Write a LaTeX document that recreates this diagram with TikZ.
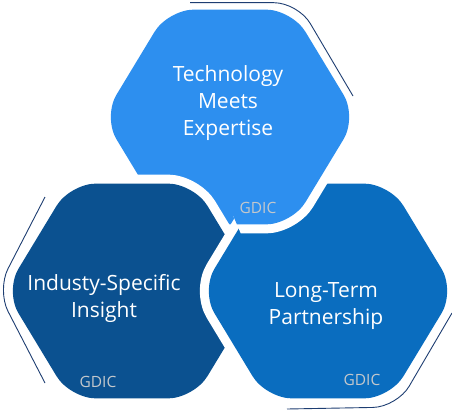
\documentclass[tikz,border=0pt]{standalone}
\usepackage{fontspec}
\setmainfont{Open Sans}
\definecolor{lightb}{HTML}{2D8FEF}
\definecolor{darkb}{HTML}{0B5190}
\definecolor{midb}{HTML}{0A6DBF}
\definecolor{navy}{HTML}{1E3E72}
\definecolor{gdicgray}{HTML}{C4C8CC}
\tikzset{
  hexfill/.style={rounded corners=26pt, preaction={draw=white, line width=18pt}},
  decoline/.style={draw=navy, line width=0.9pt, rounded corners=24pt},
  maintxt/.style={text=white, align=center, font=\fontsize{21}{27}\selectfont, inner sep=0pt},
  tagtxt/.style={text=gdicgray, font=\fontsize{15.5}{18}\selectfont, inner sep=0pt}
}
\newcommand{\drawhex}[3]{%
  \path[hexfill, fill=#3] (#1,#2-107.4) -- (#1+62,#2-107.4) -- (#1+127,#2)
    -- (#1+62,#2+107.4) -- (#1-62,#2+107.4) -- (#1-127,#2)
    -- (#1-62,#2-107.4) -- cycle;}
\begin{document}
\begin{tikzpicture}[x=1pt,y=-1pt]
\useasboundingbox (0,0) rectangle (452,412);
% light (top) first, dark over light, medium over dark
\drawhex{230}{117}{lightb}
\drawhex{132}{291}{darkb}
\drawhex{328}{291}{midb}
% light over medium (cyclic overlap)
\begin{scope}
  \clip (205,150) -- (460,150) -- (460,262) -- (253,262) -- cycle;
  \drawhex{230}{117}{lightb}
\end{scope}
% decorative outline arcs
\coordinate (d1a) at (190,2.7);
\coordinate (d1b) at (298,2.7);
\coordinate (d1c) at (353,96);
\coordinate (d2a) at (45,197);
\coordinate (d2b) at (-3,290);
\coordinate (d2c) at (45,383);
\coordinate (d3a) at (287,409);
\coordinate (d3b) at (397,407);
\coordinate (d3c) at (452,313);
\draw[decoline] (d1a) -- (d1b) -- (d1c);
\draw[decoline] (d2a) -- (d2b) -- (d2c);
\draw[decoline] (d3a) -- (d3b) -- (d3c);
% texts
\node[maintxt] (ttech) at (228,103) {Technology\\Meets\\Expertise};
\node[maintxt] (tind) at (104,298) {Industy-Specific\\Insight};
\node[maintxt] (tlong) at (326,306) {Long-Term\\Partnership};
\node[tagtxt] (g1) at (258,208) {GDIC};
\node[tagtxt] (g2) at (98,382) {GDIC};
\node[tagtxt] (g3) at (362,380) {GDIC};
\end{tikzpicture}
\end{document}
